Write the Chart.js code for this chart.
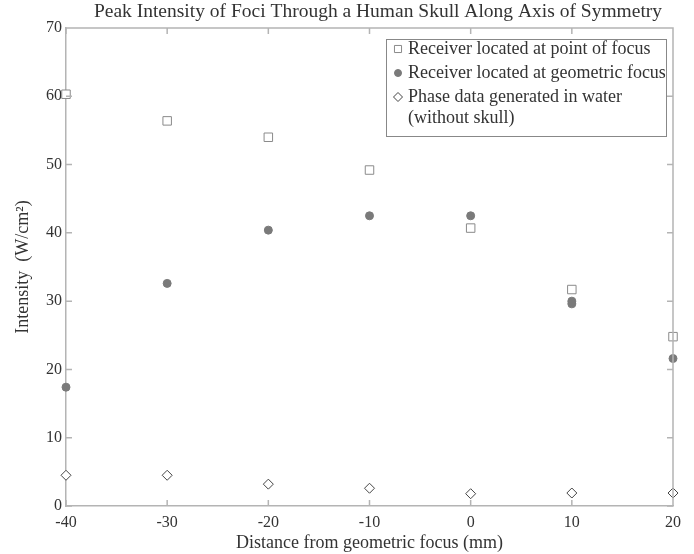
<!DOCTYPE html>
<html lang="en">
<head>
<meta charset="UTF-8">
<title>Peak Intensity of Foci</title>
<script src="https://cdn.jsdelivr.net/npm/chart.js@4.4.1/dist/chart.umd.min.js"></script>
<style>
    html, body { margin: 0; padding: 0; background: #fff; }
    #wrap { position: relative; width: 694px; height: 554px; }
</style>
</head>
<body>
<div id="wrap"><canvas id="chart" width="694" height="554"></canvas></div>
<script>
// distance from geometric focus (mm)
const distances = [-40, -30, -20, -10, 0, 10, 20];
// receiver at point of focus
const pointFocus = [60.3, 56.4, 54.0, 49.2, 40.7, 31.7, 24.8];
// receiver at geometric focus (two readings at +10 mm)
const geoX = [-40, -30, -20, -10, 0, 10, 10, 20];
const geoFocus = [17.4, 32.6, 40.4, 42.5, 42.5, 30.0, 29.6, 21.6];
// phase data generated in water
const waterOnly = [4.5, 4.5, 3.2, 2.6, 1.8, 1.9, 1.9];

const xTicks = [-40, -30, -20, -10, 0, 10, 20];
const yTicks = [0, 10, 20, 30, 40, 50, 60, 70];

const legendLabels = [
    ['Receiver located at point of focus'],
    ['Receiver located at geometric focus'],
    ['Phase data generated in water', '(without skull)']
];

const serif = '"Liberation Serif", "DejaVu Serif", serif';
const axisGray = '#b4b4b4';

function pairs(xs, ys) {
    return ys.map((y, i) => ({ x: xs[i], y: y }));
}

// frame, inward ticks, title and legend box
const decorations = {
    id: 'decorations',
    afterDatasetsDraw(chart) {
        const ctx = chart.ctx;
        const a = chart.chartArea;
        const xs = chart.scales.x, ys = chart.scales.y;
        ctx.save();
        ctx.strokeStyle = axisGray;
        ctx.lineWidth = 1.5;
        ctx.beginPath();
        ctx.moveTo(a.left, a.top); ctx.lineTo(a.right, a.top);
        ctx.lineTo(a.right, a.bottom);
        // inward ticks
        xTicks.forEach(v => {
            const px = xs.getPixelForValue(v);
            ctx.moveTo(px, a.bottom); ctx.lineTo(px, a.bottom - 6);
            ctx.moveTo(px, a.top); ctx.lineTo(px, a.top + 6);
        });
        yTicks.forEach(v => {
            const py = ys.getPixelForValue(v);
            ctx.moveTo(a.left, py); ctx.lineTo(a.left + 6, py);
            ctx.moveTo(a.right, py); ctx.lineTo(a.right - 6, py);
        });
        ctx.stroke();

        // title
        ctx.fillStyle = '#333';
        ctx.font = '19.5px ' + serif;
        ctx.textAlign = 'center';
        ctx.textBaseline = 'middle';
        ctx.fillText('Peak Intensity of Foci Through a Human Skull Along Axis of Symmetry', 378, 12);

        // legend box
        const bx = 386, by = 39, bw = 280, bh = 97;
        ctx.fillStyle = '#fff';
        ctx.fillRect(bx, by, bw, bh);
        ctx.strokeStyle = '#888';
        ctx.lineWidth = 1;
        ctx.strokeRect(bx + 0.5, by + 0.5, bw, bh);
        ctx.font = '18px ' + serif;
        ctx.textAlign = 'left';
        ctx.fillStyle = '#333';
        const rows = [49, 73, 97];
        const radii = [5, 3.5, 4.5];
        chart.data.datasets.forEach((ds, i) => {
            const y = rows[i];
            ctx.save();
            ctx.strokeStyle = ds.borderColor;
            ctx.fillStyle = ds.backgroundColor;
            ctx.lineWidth = 1;
            Chart.helpers.drawPoint(ctx, {
                pointStyle: ds.pointStyle,
                radius: radii[i],
                rotation: 0,
                borderWidth: 1
            }, 398, y);
            ctx.restore();
            legendLabels[i].forEach((line, j) => {
                ctx.fillText(line, 408, y + j * 21);
            });
        });
        ctx.restore();
    }
};

new Chart(document.getElementById('chart'), {
    type: 'scatter',
    data: {
        datasets: [
            {
                label: 'Receiver located at point of focus',
                data: pairs(distances, pointFocus),
                pointStyle: 'rect',
                pointRadius: 6,
                borderColor: '#8a8a8a',
                backgroundColor: '#ffffff',
                borderWidth: 1,
                clip: false
            },
            {
                label: 'Receiver located at geometric focus',
                data: pairs(geoX, geoFocus),
                pointStyle: 'circle',
                pointRadius: 4,
                borderColor: '#7a7a7a',
                backgroundColor: '#7a7a7a',
                borderWidth: 1,
                clip: false
            },
            {
                label: 'Phase data generated in water (without skull)',
                data: pairs(distances, waterOnly),
                pointStyle: 'rectRot',
                pointRadius: 5,
                borderColor: '#444444',
                backgroundColor: '#ffffff',
                borderWidth: 1,
                clip: false
            }
        ]
    },
    options: {
        responsive: false,
        animation: false,
        layout: { padding: { top: 28, right: 21, left: 0, bottom: 0 } },
        plugins: {
            legend: { display: false },
            tooltip: { enabled: false }
        },
        scales: {
            x: {
                type: 'linear',
                min: -40,
                max: 20,
                afterBuildTicks: s => { s.ticks = xTicks.map(v => ({ value: v })); },
                afterFit: s => { s.height = 48; },
                grid: { display: false, drawTicks: false },
                border: { display: true, color: axisGray, width: 1.5 },
                ticks: { color: '#333', font: { family: serif, size: 16 }, padding: 7 },
                title: {
                    display: true,
                    text: 'Distance from geometric focus (mm)',
                    color: '#333',
                    font: { family: serif, size: 18 },
                    padding: { top: 0, bottom: 0 }
                }
            },
            y: {
                min: 0,
                max: 70,
                afterBuildTicks: s => { s.ticks = yTicks.map(v => ({ value: v })); },
                afterFit: s => { s.width = 66; },
                grid: { display: false, drawTicks: false },
                border: { display: true, color: axisGray, width: 1.5 },
                ticks: { color: '#333', font: { family: serif, size: 16 }, padding: 4 },
                title: {
                    display: true,
                    text: 'Intensity  (W/cm²)',
                    color: '#333',
                    font: { family: serif, size: 18 },
                    padding: { top: 12, bottom: 0 }
                }
            }
        }
    },
    plugins: [decorations]
});
</script>
</body>
</html>
